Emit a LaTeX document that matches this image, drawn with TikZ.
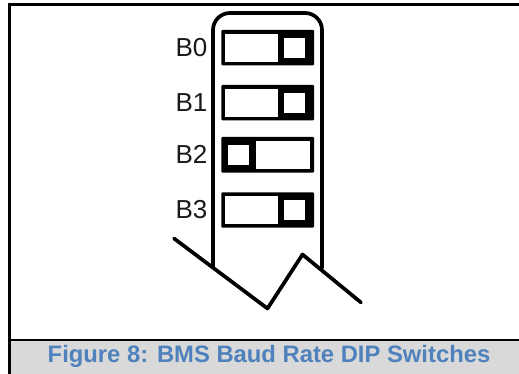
\documentclass[tikz,border=0pt]{standalone}
\usepackage{fontspec}
\setmainfont{Liberation Sans}
\definecolor{capblue}{HTML}{4F81BD}
\definecolor{capgray}{HTML}{D9D9D9}
\tikzset{
  x=1pt,y=-1pt,
  blackpart/.style={fill=black,rounded corners=1pt,draw=none},
  whitepart/.style={fill=white,draw=none},
  lab/.style={font=\fontsize{26}{28}\selectfont,anchor=east,inner sep=0pt,text=black!90},
  outline/.style={draw=black,line width=3.7pt,line join=round,line cap=round},
}
\begin{document}
\begin{tikzpicture}
\useasboundingbox (0,0) rectangle (519,374);
\fill[white] (0,0) rectangle (519,374);
\fill[capgray] (9,340) rectangle (519,374);
\draw[black,line width=3pt] (519,4.5) -- (9,4.5) -- (9,374);
\draw[black,line width=2.5pt] (9,340) -- (519,340);
\node[font=\bfseries\fontsize{23.8}{26}\selectfont,text=capblue,inner sep=0pt] (cap) at (269,356.5) {Figure 8: BMS Baud Rate DIP Switches};
% body
\draw[outline,rounded corners=17pt] (213,267) -- (213,13) -- (322,13) -- (322,268);
% zigzag
\draw[outline] (174,238.5) -- (267.5,308.5) -- (302.5,254.5) -- (361,302.5);
% switches
\foreach \n/\t/\lbl in {0/30/B0,1/85/B1,3/192.3/B3}{
  \fill[blackpart] (221.3,\t) rectangle (314,\t+35.3);
  \fill[whitepart] (225.3,\t+4) rectangle (277.7,\t+31.7);
  \fill[whitepart] (284.3,\t+8) rectangle (304.7,\t+27.7);
  \node[lab] (l\n) at (207.5,\t+17.6) {\lbl};
}
\fill[blackpart] (221.3,137) rectangle (314,172.7);
\fill[whitepart] (255.7,141) rectangle (310,168.7);
\fill[whitepart] (228.3,145) rectangle (249,165.3);
\node[lab] (l2) at (207.5,154.8) {B2};
\end{tikzpicture}
\end{document}
